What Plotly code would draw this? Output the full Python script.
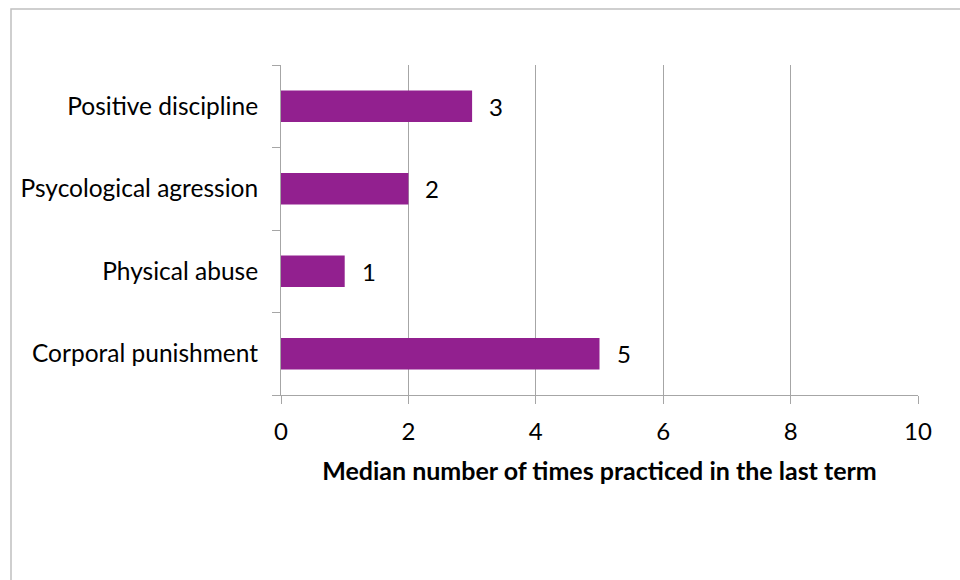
import plotly.graph_objects as go

categories = ["Corporal punishment", "Physical abuse", "Psycological agression", "Positive discipline"]
values = [5, 1, 2, 3]
x_ticks = [0, 2, 4, 6, 8, 10]

L, R, T, B = 281, 42, 65, 185
W, H = 960, 580
pw, ph = W - L - R, H - T - B

def px_x(p):
    return (p - L) / pw

def px_y(p):
    return (H - B - p) / ph

FONT = "Lato, sans-serif"

fig = go.Figure()
fig.add_trace(go.Bar(
    y=categories, x=values, orientation="h",
    marker=dict(color="#92208F", line=dict(width=0)),
    width=0.38,
))
for c, v in zip(categories, values):
    fig.add_annotation(x=v, y=c, text=str(v), showarrow=False,
                       xanchor="left", xshift=15,
                       font=dict(family=FONT, size=24, color="#000"))

fig.update_layout(
    width=W, height=H,
    margin=dict(l=L, r=R, t=T, b=B),
    plot_bgcolor="white", paper_bgcolor="white",
    showlegend=False,
    font=dict(family=FONT, size=24, color="#000"),
    xaxis=dict(
        range=[0, 10], tickvals=x_ticks, ticktext=[str(v) for v in x_ticks],
        showgrid=True, gridcolor="#a6a6a6", gridwidth=1,
        showline=True, linecolor="#a6a6a6", linewidth=1,
        ticks="outside", ticklen=8, tickcolor="#a6a6a6",
        tickfont=dict(size=24),
        ticklabelstandoff=7,
        zeroline=False,
        title=dict(text="<b>Median number of times practiced in the last term</b>",
                   font=dict(size=25), standoff=18),
    ),
    yaxis=dict(
        showgrid=False, showline=True, linecolor="#a6a6a6", linewidth=1,
        ticks="outside", ticklen=8, tickcolor="#a6a6a6", tickson="boundaries",
        tickfont=dict(size=24.5),
        ticklabelstandoff=17,
    ),
    bargap=0.62,
    shapes=[dict(type="rect", xref="paper", yref="paper",
                 x0=px_x(11), x1=px_x(1000), y0=px_y(620), y1=px_y(9),
                 line=dict(color="#c0c0c0", width=1.5), layer="below")],
)

fig.write_html("out.html")
